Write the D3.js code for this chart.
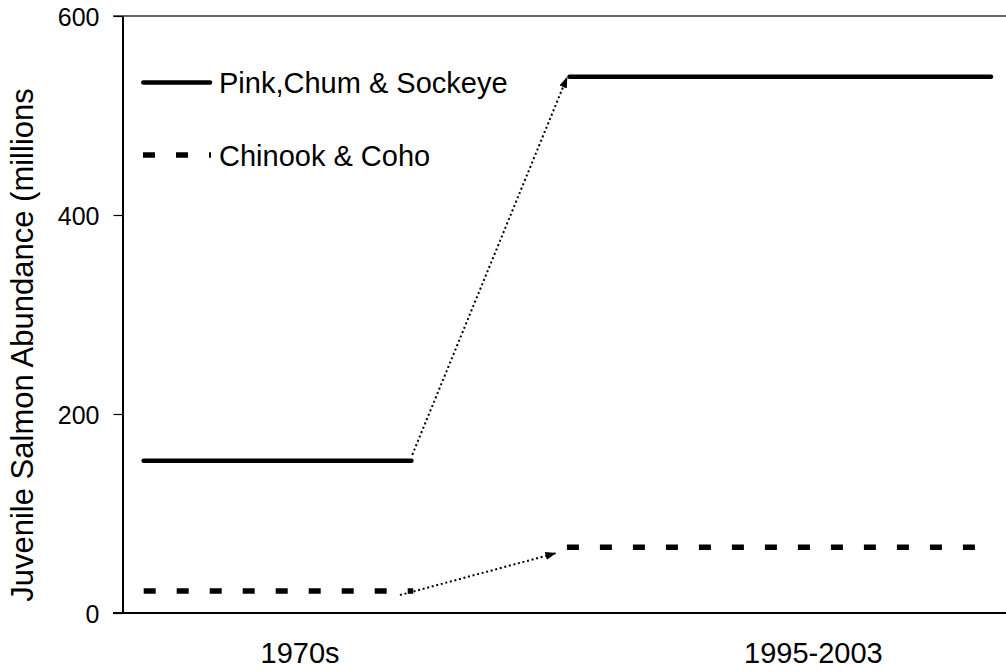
<!DOCTYPE html>
<html>
<head>
<meta charset="utf-8">
<script src="https://cdn.jsdelivr.net/npm/d3@7"></script>
<style>
  html, body { margin: 0; padding: 0; background: #fff; }
  svg { display: block; font-family: "Liberation Sans", Arial, sans-serif; }
</style>
</head>
<body>
<svg id="chart" width="1006" height="672"></svg>
<script>
// ---- data ----
const periods = ["1970s", "1995-2003"];
const periodLabelPos = [20.1, 78.2];          // axis units
const seriesNames = ["Pink,Chum & Sockeye", "Chinook & Coho"];
const pinkValues = [153, 539];
const chinookValues = [22, 66];
const pinkSpans = [[2.4, 32.7], [50.6, 98.3]];     // axis units per period
const chinookSpans = [[2.4, 32.9], [50.3, 96.5]];
const arrowFrom = [[32.8, 159], [31.4, 18]];
const arrowTo = [[50.3, 538], [49.0, 60]];
const yTicks = [0, 200, 400, 600];
const yTitle = "Juvenile Salmon Abundance (millions";

// ---- layout ----
const plotL = 122.5, plotR = 1006, plotT = 16, plotB = 613;
const svg = d3.select("#chart");

const x = d3.scaleLinear().domain([0, 100]).range([plotL, plotR]);
const y = d3.scaleLinear().domain([0, 600]).range([plotB, plotT]);

svg.append("defs").append("marker")
  .attr("id", "ah").attr("markerUnits", "userSpaceOnUse")
  .attr("viewBox", "0 -5 11 10").attr("refX", 10).attr("refY", 0)
  .attr("markerWidth", 11).attr("markerHeight", 10).attr("orient", "auto")
  .append("path").attr("d", "M0,-4L11,0L0,4Z").attr("fill", "#000");

// top border / 600 line
svg.append("line").attr("x1", 113).attr("x2", plotR)
  .attr("y1", y(600)).attr("y2", y(600))
  .attr("stroke", "#333").attr("stroke-width", 1.5);

// y axis
const yAxis = d3.axisLeft(y).tickValues(yTicks).tickSize(9).tickSizeOuter(0).tickPadding(14);
const gy = svg.append("g").attr("transform", `translate(${plotL},0)`).call(yAxis);
gy.select(".domain").attr("stroke", "#000").attr("stroke-width", 2);
gy.selectAll(".tick line").attr("stroke", "#000").attr("stroke-width", 1.2);
gy.selectAll(".tick text").attr("font-size", 25).attr("fill", "#000")
  .attr("font-family", "Liberation Sans, Arial, sans-serif").attr("dy", "0.36em");

// bottom axis line
svg.append("line").attr("x1", 113).attr("x2", plotR)
  .attr("y1", y(0)).attr("y2", y(0))
  .attr("stroke", "#000").attr("stroke-width", 2.2);

// category labels
svg.selectAll("text.cat").data(periods).join("text").attr("class", "cat")
  .attr("x", (d, i) => x(periodLabelPos[i])).attr("y", 663)
  .attr("text-anchor", "middle").attr("font-size", 29).attr("fill", "#000")
  .text(d => d);

// y title
svg.append("text")
  .attr("transform", `translate(33,345) rotate(-90)`)
  .attr("text-anchor", "middle").attr("font-size", 31).attr("fill", "#000")
  .text(yTitle);

// pink solid segments
svg.selectAll("line.pink").data(pinkValues).join("line").attr("class", "pink")
  .attr("x1", (d, i) => x(pinkSpans[i][0])).attr("x2", (d, i) => x(pinkSpans[i][1]))
  .attr("y1", d => y(d)).attr("y2", d => y(d))
  .attr("stroke", "#000").attr("stroke-width", 4.6).attr("stroke-linecap", "round");

// chinook dashed segments
svg.selectAll("line.chin").data(chinookValues).join("line").attr("class", "chin")
  .attr("x1", (d, i) => x(chinookSpans[i][0])).attr("x2", (d, i) => x(chinookSpans[i][1]))
  .attr("y1", d => y(d)).attr("y2", d => y(d))
  .attr("stroke", "#000").attr("stroke-width", 5.5).attr("stroke-dasharray", "12 21");

// dotted arrows
svg.selectAll("line.arrow").data(arrowFrom).join("line").attr("class", "arrow")
  .attr("x1", d => x(d[0])).attr("y1", d => y(d[1]))
  .attr("x2", (d, i) => x(arrowTo[i][0])).attr("y2", (d, i) => y(arrowTo[i][1]))
  .attr("stroke", "#000").attr("stroke-width", 2).attr("stroke-dasharray", "2 2.7")
  .attr("marker-end", "url(#ah)");

// legend
const legY = [82.5, 155];
const lg = svg.append("g");
lg.append("line").attr("x1", 143.3).attr("x2", 210).attr("y1", legY[0]).attr("y2", legY[0])
  .attr("stroke", "#000").attr("stroke-width", 4.6).attr("stroke-linecap", "round");
lg.append("line").attr("x1", 143).attr("x2", 211).attr("y1", legY[1]).attr("y2", legY[1])
  .attr("stroke", "#000").attr("stroke-width", 5.5).attr("stroke-dasharray", "12 21");
lg.selectAll("text").data(seriesNames).join("text")
  .attr("x", 219).attr("y", (d, i) => legY[i] + 10.5)
  .attr("font-size", 29).attr("fill", "#000").text(d => d);
</script>
</body>
</html>
